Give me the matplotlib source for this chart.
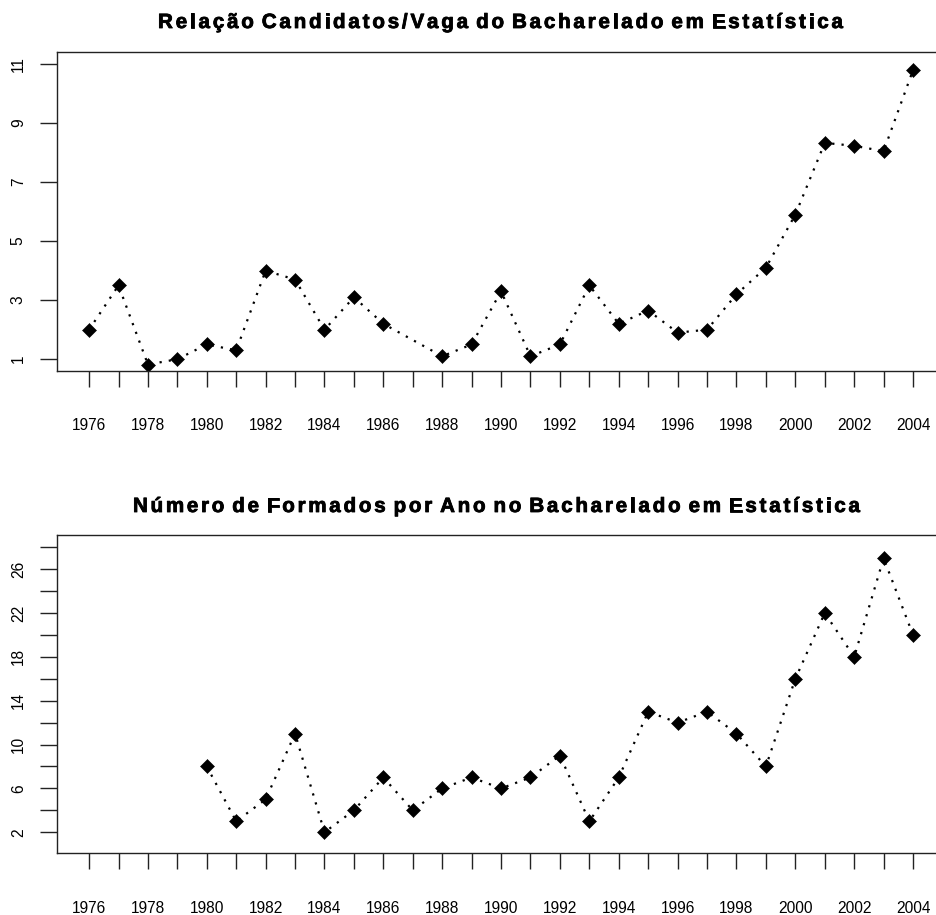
#!/usr/bin/env python3
"""Candidates per vacancy and graduates per year, Bacharelado em Estatística."""

import matplotlib
matplotlib.use('Agg')
import matplotlib.pyplot as plt
import matplotlib.patheffects as pe
from matplotlib.font_manager import FontProperties
from matplotlib.ticker import FixedLocator, FuncFormatter

# relação candidatos/vaga (1987 sem dado)
anos_cv = [1976, 1977, 1978, 1979, 1980, 1981, 1982, 1983, 1984, 1985, 1986,
           1988, 1989, 1990, 1991, 1992, 1993, 1994, 1995, 1996, 1997, 1998,
           1999, 2000, 2001, 2002, 2003, 2004]
cand_vaga = [2.0, 3.5, 0.82, 1.0, 1.5, 1.3, 4.0, 3.7, 2.0, 3.1, 2.2,
             1.1, 1.5, 3.3, 1.1, 1.5, 3.5, 2.2, 2.65, 1.9, 2.0, 3.2,
             4.1, 5.9, 8.33, 8.23, 8.05, 10.8]

# formados por ano
anos_form = list(range(1980, 2005))
formados = [8, 3, 5, 11, 2, 4, 7, 4, 6, 7, 6, 7, 9, 3, 7, 13, 12, 13, 11, 8,
            16, 22, 18, 27, 20]

anos_eixo = list(range(1976, 2005))

titulo_cv = 'Relação Candidatos/Vaga do Bacharelado em Estatística'
titulo_form = 'Número de Formados por Ano no Bacharelado em Estatística'

W, H = 936, 915
FONTE = 'Liberation Sans'


def spaced_title(fig, s, x0, x1, base_y, size, space_px):
    # letter-spaced title fitted between x0 and x1 (pixels), char by char
    prop = FontProperties(family=FONTE, weight='bold', size=size)
    renderer = fig.canvas.get_renderer()

    def ink_w(t):
        return renderer.get_text_width_height_descent(t, prop, ismath=False)[0]

    adv = {}
    for c in set(s):
        if c != ' ':
            adv[c] = ink_w(c + c) - ink_w(c)
    words = s.split(' ')
    letters = sum(adv[c] for w in words for c in w[:-1]) + sum(ink_w(w[-1]) for w in words)
    n_pairs = sum(len(w) - 1 for w in words)
    g = (x1 - x0 - letters - space_px * (len(words) - 1)) / n_pairs
    x = x0
    for w in words:
        for i, c in enumerate(w):
            t = fig.text(x / W, 1 - base_y / H, c, fontproperties=prop,
                         ha='left', va='baseline')
            t.set_path_effects([pe.withStroke(linewidth=0.6, foreground='black')])
            if i < len(w) - 1:
                x += adv[c] + g
            else:
                x += ink_w(c)
        x += space_px


def style_axes(ax, yticks, ylabels):
    for sp in ax.spines.values():
        sp.set_linewidth(1.0)
        sp.set_color('#222222')
    ax.xaxis.set_major_locator(FixedLocator(anos_eixo))
    ax.xaxis.set_major_formatter(FuncFormatter(lambda v, p: str(int(v)) if int(v) % 2 == 0 else ''))
    ax.tick_params(axis='x', length=11.5, width=1.0, pad=22.5, labelsize=11.2,
                   colors='#222222', labelcolor='black')
    ax.set_yticks(yticks)
    ax.set_yticklabels([str(t) if t in ylabels else '' for t in yticks])
    ax.tick_params(axis='y', length=12, width=1.0, pad=10.5, labelsize=11.2,
                   colors='#222222', labelcolor='black')
    for lab in ax.get_yticklabels():
        lab.set_rotation(90)
        lab.set_va('center')
    for lab in ax.get_xticklabels() + ax.get_yticklabels():
        lab.set_fontfamily(FONTE)


def main():
    fig = plt.figure(figsize=(W / 100, H / 100), dpi=100)

    left = 57 / W
    width = (946 - 57) / W

    ax1 = fig.add_axes([left, 1 - 371 / H, width, (371 - 52) / H])
    ax1.plot(anos_cv, cand_vaga, color='black', linestyle=(0, (1, 3.2)),
             linewidth=1.6, marker='D', markersize=7.2, markeredgewidth=0.4)
    ax1.set_xlim(1974.91, 2005.12)
    ax1.set_ylim(0.60, 11.41)
    style_axes(ax1, [1, 3, 5, 7, 9, 11], [1, 3, 5, 7, 9, 11])

    ax2 = fig.add_axes([left, 1 - 853.3 / H, width, (853.3 - 535) / H])
    ax2.plot(anos_form, formados, color='black', linestyle=(0, (1, 3.2)),
             linewidth=1.6, marker='D', markersize=7.2, markeredgewidth=0.4)
    ax2.set_xlim(1974.91, 2005.12)
    ax2.set_ylim(0.08, 29.12)
    style_axes(ax2, list(range(2, 29, 2)), [2, 6, 10, 14, 18, 22, 26])

    spaced_title(fig, titulo_cv, 158, 843, 28, 14.8, 8)
    spaced_title(fig, titulo_form, 133, 860, 512, 14.8, 8)

    fig.savefig('out.png', dpi=100)


if __name__ == '__main__':
    main()
